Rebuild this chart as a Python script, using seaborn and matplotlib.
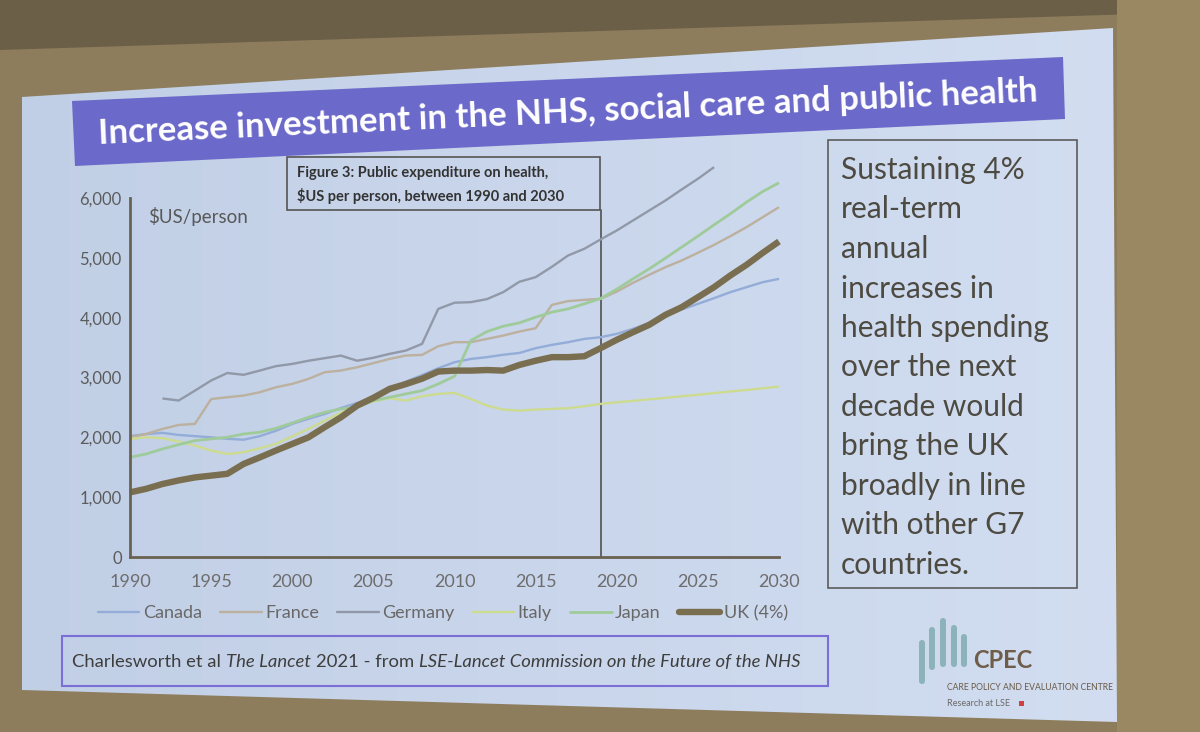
import numpy as np
import pandas as pd
import matplotlib
matplotlib.use("Agg")
import matplotlib.pyplot as plt
import seaborn as sns
from matplotlib.patches import Polygon, Rectangle, FancyBboxPatch
from matplotlib.lines import Line2D
from matplotlib.colors import LinearSegmentedColormap

nan = np.nan
years = list(range(1990, 2031))
canada = [2020, 2055, 2075, 2040, 2020, 2000, 1975, 1960, 2020, 2110, 2225,
          2310, 2390, 2490, 2575, 2640, 2780, 2930, 3040, 3155, 3255,
          3310, 3340, 3380, 3410, 3490, 3545, 3590, 3645, 3673, 3730,
          3813, 3913, 4036, 4136, 4231, 4326, 4426, 4510, 4593, 4649]
france = [2000, 2057, 2140, 2207, 2224, 2640, 2670, 2698, 2754, 2837, 2893,
          2977, 3088, 3116, 3172, 3240, 3311, 3367, 3378, 3523, 3590,
          3590, 3645, 3701, 3768, 3824, 4214, 4276, 4298, 4314, 4435,
          4582, 4716, 4844, 4955, 5084, 5217, 5362, 5513, 5680, 5847]
germany = [nan, nan, 2650, 2615, 2780, 2950, 3075, 3045, 3116, 3190, 3227,
           3280, 3323, 3366, 3280, 3330, 3395, 3450, 3562, 4147, 4250,
           4259, 4310, 4426, 4600, 4677, 4850, 5039, 5151, 5307, 5457,
           5624, 5791, 5958, 6142, 6321, 6516, nan, nan, nan, nan]
italy = [1973, 2001, 1985, 1929, 1862, 1778, 1722, 1751, 1818, 1890, 2018,
         2140, 2280, 2408, 2531, 2600, 2654, 2614, 2687, 2726, 2742,
         2642, 2531, 2464, 2447, 2464, 2475, 2487, 2520, 2559, 2585,
         2610, 2635, 2660, 2686, 2712, 2740, 2766, 2792, 2820, 2848]
japan = [1667, 1722, 1806, 1878, 1945, 1973, 2001, 2057, 2085, 2151, 2241,
         2336, 2419, 2475, 2503, 2614, 2670, 2726, 2781, 2893, 3021,
         3617, 3768, 3857, 3913, 4008, 4092, 4147, 4231, 4320, 4476,
         4649, 4816, 4995, 5179, 5362, 5552, 5736, 5931, 6109, 6254]
uk = [1080, 1140, 1220, 1280, 1330, 1360, 1390, 1555, 1665, 1780, 1890,
      2000, 2170, 2335, 2530, 2660, 2810, 2890, 2980, 3100, 3115,
      3115, 3125, 3115, 3210, 3280, 3340, 3340, 3355, 3490, 3630,
      3757, 3880, 4047, 4175, 4342, 4510, 4705, 4883, 5084, 5273]

countries = ["Canada", "France", "Germany", "Italy", "Japan", "UK (4%)"]
series = [canada, france, germany, italy, japan, uk]
colors = ["#93acd8", "#bcb09e", "#9199a9", "#cddb8f", "#9fcb9b", "#7a6e51"]
widths = [1.7, 1.7, 1.7, 1.7, 2.0, 4.6]
x_ticks = [1990, 1995, 2000, 2005, 2010, 2015, 2020, 2025, 2030]
y_ticks = [0, 1000, 2000, 3000, 4000, 5000, 6000]
forecast_year = 2019

rows = []
for name, vals in zip(countries, series):
    for yr, v in zip(years, vals):
        rows.append({"year": yr, "value": v, "country": name})
df = pd.DataFrame(rows).dropna()

sns.set_theme(style="white")
plt.rcParams["font.family"] = ["Lato", "DejaVu Sans"]

W, H = 1200, 732
fig = plt.figure(figsize=(12, 7.32), dpi=100)
fig.patch.set_facecolor("#8d7d5d")

# ---- background / slide (pixel coordinates) ----
bg = fig.add_axes([0, 0, 1, 1])
bg.set_xlim(0, W)
bg.set_ylim(H, 0)
bg.axis("off")
bg.add_patch(Polygon([(0, 0), (W, 0), (W, 12), (0, 50)], closed=True,
                     facecolor="#6c5f47", edgecolor="none", zorder=0))
bg.add_patch(Polygon([(1117, 0), (W, 0), (W, H), (1117, H)], closed=True,
                     facecolor="#9a8862", edgecolor="none", zorder=0))
slide = Polygon([(22, 97), (1113, 28), (1117, 722), (22, 690)], closed=True,
                facecolor="none", edgecolor="none")
bg.add_patch(slide)
grad = np.linspace(0, 1, 256).reshape(1, -1)
cmap = LinearSegmentedColormap.from_list("s", ["#c1cfe6", "#d3def1"])
im = bg.imshow(grad, extent=(0, W, H, 0), cmap=cmap, aspect="auto", zorder=1)
im.set_clip_path(slide)

# title banner
bg.add_patch(Polygon([(72, 101), (1063, 57), (1065, 119), (75, 166)], closed=True,
                     facecolor="#6b69c9", edgecolor="none", zorder=2))
bg.text(568, 113, "Increase investment in the NHS, social care and public health",
        color="white", fontsize=25, fontweight="bold", ha="center", va="center",
        rotation=2.6, rotation_mode="anchor", zorder=3)

# ---- main chart ----
ax = fig.add_axes([130 / W, 1 - 557 / H, (779 - 130) / W, (557 - 198) / H])
ax.patch.set_alpha(0)
sns.lineplot(data=df, x="year", y="value", hue="country", size="country",
             hue_order=countries, size_order=countries,
             palette=dict(zip(countries, colors)),
             sizes=dict(zip(countries, widths)),
             estimator=None, legend=False, ax=ax)
for ln in ax.lines:
    ln.set_clip_on(False)
    ln.set_solid_capstyle("butt")

ax.set_xlim(1990, 2030)
ax.set_ylim(0, 6000)
ax.set_xticks(x_ticks)
ax.set_xticklabels([str(t) for t in x_ticks], fontsize=13, color="#6d6d6d")
ax.set_yticks(y_ticks)
ax.set_yticklabels([f"{t:,}" for t in y_ticks], fontsize=12, color="#5c5c5c")
ax.set_xlabel("")
ax.set_ylabel("")
for s in ["top", "right"]:
    ax.spines[s].set_visible(False)
for s in ["left", "bottom"]:
    ax.spines[s].set_color("#6b6150")
    ax.spines[s].set_linewidth(2)
ax.tick_params(axis="both", direction="in", length=5, width=1.5, color="#6b6150")
ax.tick_params(axis="x", pad=12)
ax.tick_params(axis="y", pad=6)
ax.grid(False)

box_bottom_px = 210
ax.axvline(forecast_year, ymin=0, ymax=(557 - box_bottom_px) / (557 - 198),
           color="#5a5a5a", lw=1.3, zorder=1)

fig.text(148 / W, 1 - 216 / H, r"\$US/person", fontsize=13.5, color="#585858", va="center")

# Figure 3 box
fig.add_artist(Rectangle((287 / W, 1 - 210 / H), (600 - 287) / W, (210 - 157) / H,
                         transform=fig.transFigure, fill=False, ec="#555555", lw=1.2))
fig.text(297 / W, 1 - 173 / H, "Figure 3: Public expenditure on health,",
         fontsize=10.5, fontweight="bold", color="#333333", va="center")
fig.text(297 / W, 1 - 196 / H, r"\$US per person, between 1990 and 2030",
         fontsize=10.5, fontweight="bold", color="#333333", va="center")

# legend
handles = [Line2D([], [], color=c, lw=w) for c, w in zip(colors, widths)]
fig.legend(handles, countries, loc="center", bbox_to_anchor=(443 / W, 1 - 613 / H),
           ncol=6, frameon=False, fontsize=13, handlelength=2.3,
           handletextpad=0.2, columnspacing=1.0, labelcolor="#686868")

# source box
fig.add_artist(Rectangle((62 / W, 1 - 686 / H), (828 - 62) / W, (686 - 636) / H,
                         transform=fig.transFigure, fill=False, ec="#7b6ed6", lw=1.5))
pieces = [("Charlesworth et al", "normal", 0), ("The Lancet", "italic", 3.7),
          ("2021 - from", "normal", 3.7),
          ("LSE-Lancet Commission on the Future of the NHS", "italic", 3.7)]
prev = None
for txt, sty, gap in pieces:
    if prev is None:
        prev = fig.text(72 / W, 1 - 670 / H, txt, fontsize=13.3, color="#3e3e3e",
                        style=sty, va="bottom")
    else:
        prev = bg.annotate(txt, xy=(1, 0), xycoords=prev, xytext=(gap, 0),
                           textcoords="offset points", fontsize=13.3,
                           color="#3e3e3e", style=sty, va="bottom", ha="left")

# right text box
fig.add_artist(Rectangle((828 / W, 1 - 588 / H), (1077 - 828) / W, (588 - 140) / H,
                         transform=fig.transFigure, fill=False, ec="#5b5b5b", lw=1.2))
fig.text(841 / W, 1 - 156 / H,
         "Sustaining 4%\nreal-term\nannual\nincreases in\nhealth spending\nover the next\n"
         "decade would\nbring the UK\nbroadly in line\nwith other G7\ncountries.",
         fontsize=21.5, color="#4d4a42", va="top", ha="left", linespacing=1.5)

# CPEC logo
for bx, top, bot in [(919, 640, 684), (929, 627, 670), (940, 618, 667),
                     (951, 625, 667), (961, 634, 667)]:
    bg.add_patch(FancyBboxPatch((bx, top), 6, bot - top,
                                boxstyle="round,pad=0,rounding_size=3",
                                facecolor="#8db3ba", edgecolor="none", zorder=3))
bg.text(973, 660, "CPEC", fontsize=17, fontweight="bold", color="#6e5d48",
        va="center", ha="left", zorder=3)
bg.text(947, 687, "CARE POLICY AND EVALUATION CENTRE", fontsize=6.2,
        color="#6a5a48", va="center", ha="left", zorder=3)
bg.text(947, 704, "Research at LSE", fontsize=6.5, color="#6a6a6a",
        va="center", ha="left", zorder=3)
bg.add_patch(Rectangle((1019, 701), 5, 5, facecolor="#d04040", edgecolor="none", zorder=3))

fig.savefig("out.png", dpi=100, facecolor=fig.get_facecolor())
